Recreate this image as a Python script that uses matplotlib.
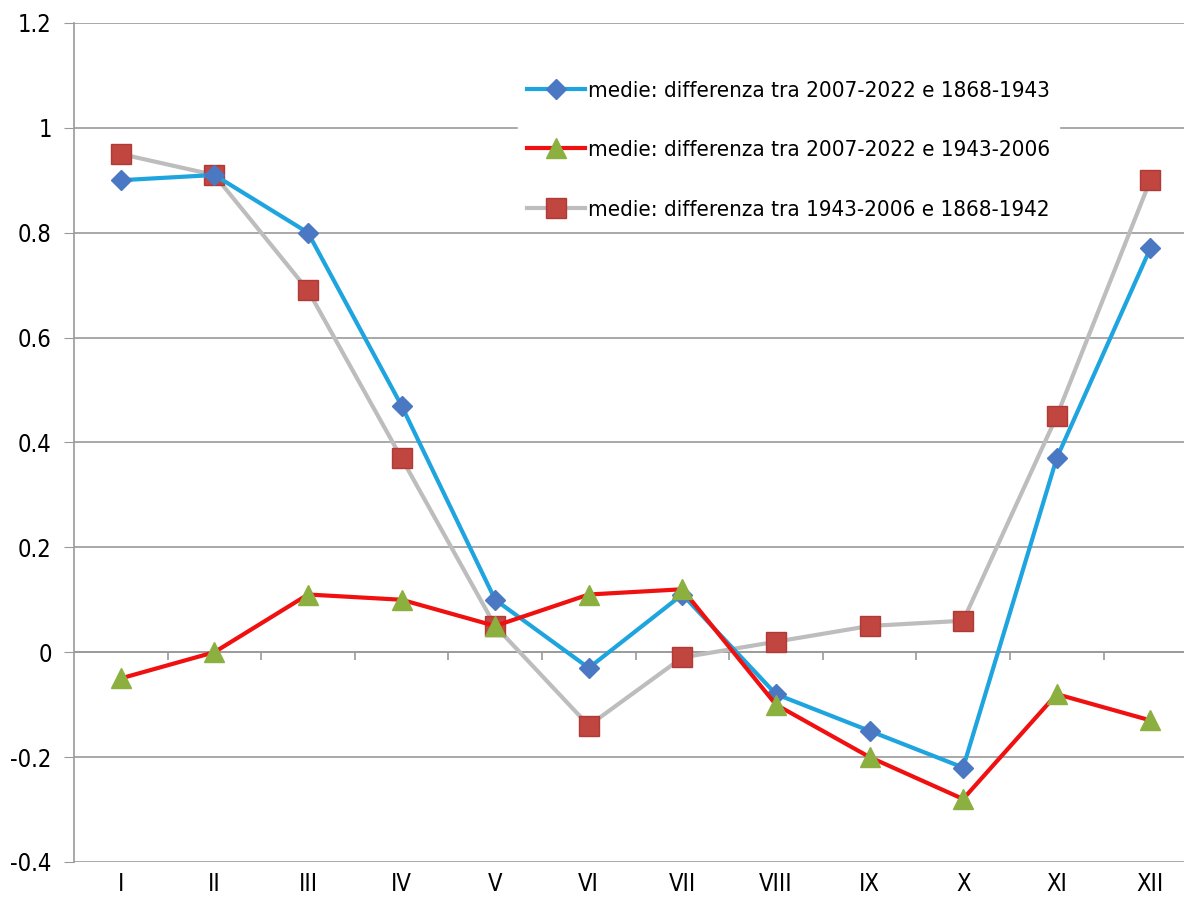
import matplotlib.pyplot as plt

# reference font looks like Calibri; condensed DejaVu is the closest fit here
plt.rcParams['font.family'] = ['DejaVu Sans']
plt.rcParams['font.stretch'] = 'condensed'

months = ["I", "II", "III", "IV", "V", "VI", "VII", "VIII", "IX", "X", "XI", "XII"]
diff_0722_1868 = [0.90, 0.91, 0.80, 0.47, 0.10, -0.03, 0.11, -0.08, -0.15, -0.22, 0.37, 0.77]
diff_0722_1943 = [-0.05, 0.00, 0.11, 0.10, 0.05, 0.11, 0.12, -0.10, -0.20, -0.28, -0.08, -0.13]
diff_1943_1868 = [0.95, 0.91, 0.69, 0.37, 0.05, -0.14, -0.01, 0.02, 0.05, 0.06, 0.45, 0.90]

labels = ["medie: differenza tra 2007-2022 e 1868-1943",
          "medie: differenza tra 2007-2022 e 1943-2006",
          "medie: differenza tra 1943-2006 e 1868-1942"]

fig = plt.figure(figsize=(11.84, 9.16), dpi=100)
ax = fig.add_axes([0.0625, 0.059, 0.9375, 0.916])

x = list(range(len(months)))

ax.plot(x, diff_0722_1868, color="#1EA4DE", lw=3, marker="D", ms=10,
        mfc="#4A78C2", mec="#4A78C2", label=labels[0], zorder=4)
ax.plot(x, diff_0722_1943, color="#F01010", lw=3, marker="^", ms=15,
        mfc="#8CB040", mec="#8CB040", label=labels[1], zorder=5)
ax.plot(x, diff_1943_1868, color="#BDBDBD", lw=3, marker="s", ms=14,
        mfc="#C0463F", mec="#B03A35", label=labels[2], zorder=3)

ax.set_xlim(-0.5, 11.36)
ax.set_ylim(-0.4, 1.2)
ax.set_yticks([-0.4, -0.2, 0, 0.2, 0.4, 0.6, 0.8, 1, 1.2])
ax.set_yticklabels(["-0.4", "-0.2", "0", "0.2", "0.4", "0.6", "0.8", "1", "1.2"])
ax.set_xticks(x)
ax.set_xticklabels(months)
ax.yaxis.grid(True, color="#9A9A9A", lw=1.2)
ax.set_axisbelow(True)
ax.tick_params(axis="y", length=7, color="#9A9A9A", labelsize=17, pad=9)
ax.tick_params(axis="x", length=0, labelsize=17, pad=7)

for s in ["top", "right", "bottom"]:
    ax.spines[s].set_visible(False)
ax.spines["left"].set_color("#9A9A9A")
ax.spines["left"].set_linewidth(1.2)

# category axis at zero with boundary ticks
ax.axhline(0, color="#9A9A9A", lw=1.2, zorder=1)
bounds = [i + 0.5 for i in x[:-1]]
ax.vlines(bounds, -0.015, 0, color="#9A9A9A", lw=1.2, zorder=1)

leg = ax.legend(loc="upper left", bbox_to_anchor=(0.39, 0.955), frameon=True,
                fontsize=16, handlelength=2.6, labelspacing=1.78,
                handletextpad=0.15, borderpad=0.4, framealpha=1)
leg.get_frame().set_edgecolor("white")
leg.get_frame().set_facecolor("white")
leg.set_zorder(6)

fig.savefig("out.png", dpi=100)
